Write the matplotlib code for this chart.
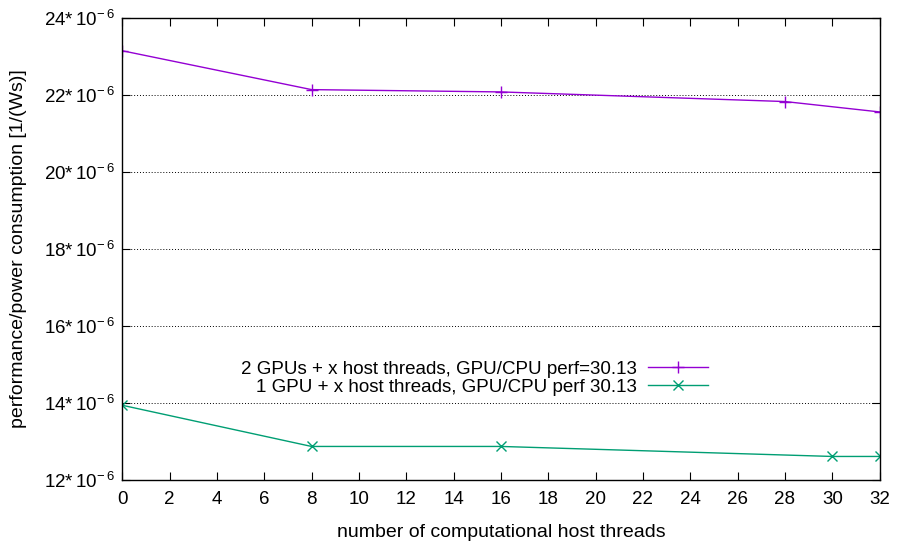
import matplotlib
matplotlib.use("Agg")
import matplotlib.pyplot as plt

plt.rcParams['font.family'] = ['Liberation Sans', 'DejaVu Sans']

threads_2gpu = [0, 8, 16, 28, 32]
perf_2gpu = [23.15, 22.14, 22.08, 21.83, 21.56]   # in 1e-6 1/(Ws)
threads_1gpu = [0, 8, 16, 30, 32]
perf_1gpu = [13.94, 12.87, 12.87, 12.61, 12.61]

label_2gpu = "2 GPUs + x host threads, GPU/CPU perf=30.13"
label_1gpu = "1 GPU + x host threads, GPU/CPU perf 30.13"

xticks = list(range(0, 33, 2))
yticks = [12, 14, 16, 18, 20, 22, 24]
ytick_labels = [r"$\mathregular{%d{*}\,10^{-\,6}}$" % v for v in yticks]

fig = plt.figure(figsize=(9.05, 5.46), dpi=100)
ax = fig.add_axes([0.135, 0.121, 0.837, 0.846])

ax.plot(threads_2gpu, perf_2gpu, color='#9400D3', marker='+', markersize=9,
        linewidth=1.0, label=label_2gpu)
ax.plot(threads_1gpu, perf_1gpu, color='#009E73', marker='x', markersize=7,
        linewidth=1.0, label=label_1gpu)

ax.set_xlim(0, 32)
ax.set_ylim(12, 24)
ax.set_xticks(xticks)
ax.set_yticks(yticks)
ax.set_yticklabels(ytick_labels)
ax.tick_params(direction='in', top=True, right=True, labelsize=13.5, length=6, width=0.8)
ax.tick_params(axis='x', pad=8)
ax.tick_params(axis='y', pad=5)
ax.grid(axis='y', linestyle=(0, (1, 2)), color='black', linewidth=0.7)
for s in ax.spines.values():
    s.set_linewidth(1.0)

ax.set_xlabel("number of computational host threads", fontsize=14)
ax.xaxis.set_label_coords(0.5, -0.095)
ax.set_ylabel("performance/power consumption [1/(Ws)]", fontsize=14)
ax.yaxis.set_label_coords(-0.125, 0.5)

leg = ax.legend(loc='upper right', bbox_to_anchor=(0.783, 0.275), frameon=False,
                fontsize=13.5, markerfirst=False, handlelength=3.2,
                labelspacing=0.05, borderaxespad=0, handletextpad=0.6)
for t in leg.get_texts():
    t.set_ha('right')

fig.savefig("out.png", dpi=100)
